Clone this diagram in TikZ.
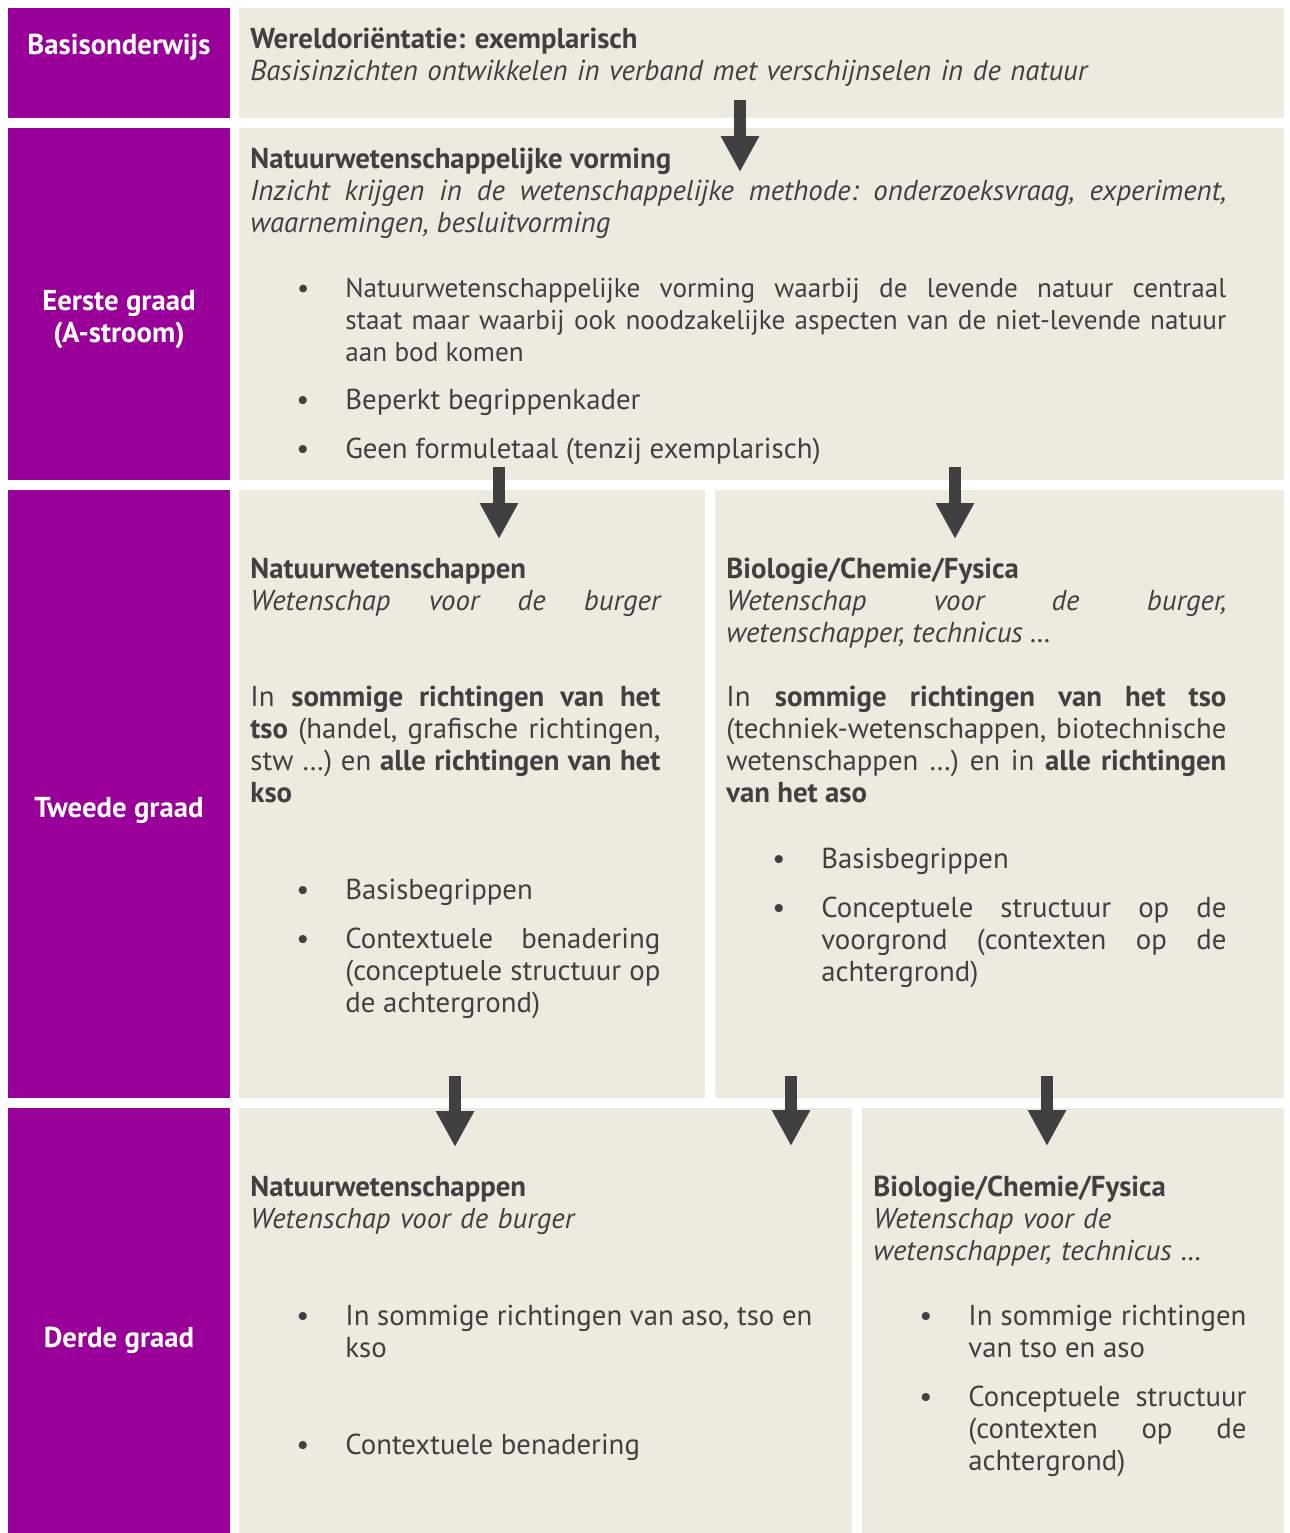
\documentclass[tikz,border=0pt]{standalone}
\usepackage{fontspec}
\setmainfont{PT Sans}
\usetikzlibrary{arrows.meta}

\definecolor{graadpurple}{HTML}{990099}
\definecolor{cellbeige}{HTML}{EDEAE0}
\definecolor{inkgray}{HTML}{404040}

\hyphenpenalty=10000
\exhyphenpenalty=10000
\frenchspacing

\newcommand{\bul}{\llap{\textbullet\hspace{18pt}}}
\newcommand{\txtfont}{\fontsize{14.4}{16}\selectfont}

\tikzset{
  graad/.style={text=white,font=\txtfont\bfseries,align=center,inner sep=0pt},
  cell/.style={fill=cellbeige},
  txt/.style={anchor=base west,inner sep=0pt,text=inkgray,align=justify},
  arr/.style={draw=inkgray,line width=6pt,-{Triangle[width=18pt,length=18pt]}}
}

\begin{document}
\begin{tikzpicture}
  [x=0.5pt,y=-0.5pt,font=\txtfont]

  \useasboundingbox[fill=white] (0,0) rectangle (1290,1533);

  % rows
  \fill[graadpurple] (8,8) rectangle (230,118);
  \fill[graadpurple] (8,128) rectangle (230,480);
  \fill[graadpurple] (8,490) rectangle (230,1098);
  \fill[graadpurple] (8,1108) rectangle (230,1533);

  \fill[cell] (239,8) rectangle (1284,118);
  \fill[cell] (239,128) rectangle (1284,480);
  \fill[cell] (239,490) rectangle (705,1098);
  \fill[cell] (715,490) rectangle (1284,1098);
  \fill[cell] (239,1108) rectangle (852,1533);
  \fill[cell] (862,1108) rectangle (1284,1533);

  \node[graad] (basis) at (119,47) {Basisonderwijs};
  \node[graad] (eerste) at (119,320) {Eerste graad\\(A-stroom)};
  \node[graad] (tweede) at (119,810) {Tweede graad};
  \node[graad] (derde) at (119,1340) {Derde graad};

  % basisonderwijs
  \node[txt,align=left,text width=520pt] (wo) at (250,48)
    {\textbf{Wereldoriëntatie: exemplarisch}\\
     \textit{Basisinzichten ontwikkelen in verband met verschijnselen in de natuur}};

  % eerste graad
  \node[txt,text width=488pt] (nwv) at (250,168)
    {\textbf{Natuurwetenschappelijke vorming}\\
     \textit{Inzicht krijgen in de wetenschappelijke methode: onderzoeksvraag, experiment,\linebreak
     waarnemingen, besluitvorming}};
  \node[txt,text width=440.5pt,font=\fontsize{13.6}{16}\selectfont] (nwv1) at (345,297)
    {\bul Natuurwetenschappelijke vorming waarbij de levende natuur centraal\linebreak
     staat maar waarbij ook noodzakelijke aspecten van de niet-levende natuur\linebreak
     aan bod komen};
  \node[txt,text width=440.5pt] (nwv2) at (345,409) {\bul Beperkt begrippenkader};
  \node[txt,text width=440.5pt] (nwv3) at (345,458) {\bul Geen formuletaal (tenzij exemplarisch)};

  % tweede graad
  \node[txt,text width=205pt] (nw2) at (250,578)
    {\textbf{Natuurwetenschappen}\\
     \textit{\makebox[205pt][s]{Wetenschap voor de burger}}};
  \node[txt,text width=205pt] (nw2p) at (250,706)
    {In \textbf{sommige richtingen van het}\linebreak
     \textbf{tso} (handel, grafische richtingen,\linebreak
     stw \dots) en \textbf{alle richtingen van het}\linebreak
     \textbf{kso}};
  \node[txt,text width=157.5pt] (nw2a) at (345,899) {\bul Basisbegrippen};
  \node[txt,text width=157.5pt] (nw2b) at (345,948)
    {\bul Contextuele benadering\linebreak
     (conceptuele structuur op\linebreak
     de achtergrond)};

  \node[txt,text width=250pt] (bcf2) at (726,578)
    {\textbf{Biologie/Chemie/Fysica}\\
     \textit{Wetenschap voor de burger,\linebreak
     wetenschapper, technicus …}};
  \node[txt,text width=250pt] (bcf2p) at (726,706)
    {In \textbf{sommige richtingen van het tso}\linebreak
     (techniek-wetenschappen, biotechnische\linebreak
     wetenschappen …) en in \textbf{alle richtingen}\linebreak
     \textbf{van het aso}};
  \node[txt,text width=202.5pt] (bcf2a) at (821,868) {\bul Basisbegrippen};
  \node[txt,text width=202.5pt] (bcf2b) at (821,917)
    {\bul Conceptuele structuur op de\linebreak
     voorgrond (contexten op de\linebreak
     achtergrond)};

  % derde graad
  \node[txt,align=left,text width=300pt] (nw3) at (250,1196)
    {\textbf{Natuurwetenschappen}\\
     \textit{Wetenschap voor de burger}};
  \node[txt,text width=233.5pt] (nw3a) at (345,1325)
    {\bul In sommige richtingen van aso, tso en\linebreak kso};
  \node[txt,text width=233.5pt] (nw3b) at (345,1454) {\bul Contextuele benadering};

  \node[txt,align=left,text width=186pt] (bcf3) at (873,1196)
    {\textbf{Biologie/Chemie/Fysica}\\
     \textit{Wetenschap voor de\\
     wetenschapper, technicus …}};
  \node[txt,text width=139pt] (bcf3a) at (968,1325)
    {\bul In sommige richtingen\linebreak van tso en aso};
  \node[txt,text width=139pt] (bcf3b) at (968,1406)
    {\bul Conceptuele structuur\linebreak
     (contexten op de\linebreak
     achtergrond)};

  % arrows
  \coordinate (a1s) at (740,100);  \coordinate (a1e) at (740,172);
  \coordinate (a2s) at (499,467);  \coordinate (a2e) at (499,539);
  \coordinate (a3s) at (955,467);  \coordinate (a3e) at (955,539);
  \coordinate (a4s) at (455,1076); \coordinate (a4e) at (455,1147);
  \coordinate (a5s) at (791,1076); \coordinate (a5e) at (791,1146);
  \coordinate (a6s) at (1047,1076);\coordinate (a6e) at (1047,1146);

  \foreach \from/\to in {a1s/a1e,a2s/a2e,a3s/a3e,a4s/a4e,a5s/a5e,a6s/a6e}
    \draw[arr] (\from) -- (\to);
\end{tikzpicture}
\end{document}
